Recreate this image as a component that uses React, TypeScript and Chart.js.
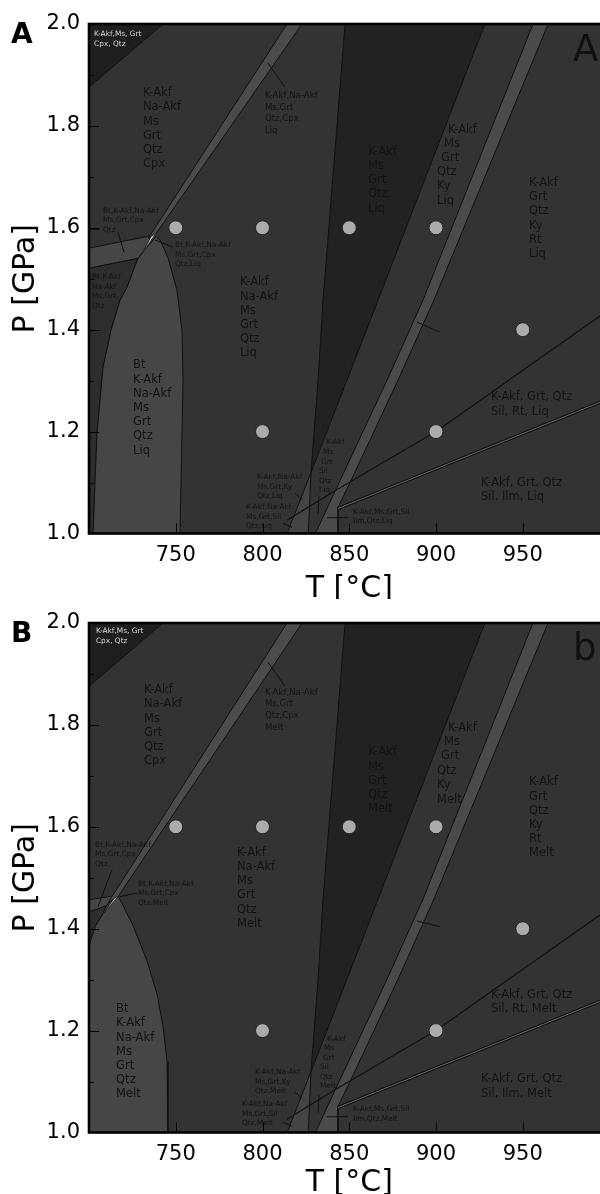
import React, { useEffect, useRef } from 'react';
import { Chart, registerables } from 'chart.js';
Chart.register(...registerables);

type Pt = [number, number];
type Label = { t: number; p: number; lines: string[] };

// ---- axes ----
const tMin = 700, tMax = 1000, pMin = 1.0, pMax = 2.0;
const xTickValues = [750, 800, 850, 900, 950];
const yTickValues = [1.0, 1.2, 1.4, 1.6, 1.8, 2.0];
const yMinorValues = [1.1, 1.3, 1.5, 1.7, 1.9];

// ---- sample points (T, P) ----
const sampleT = [750, 800, 850, 900, 950, 800, 900];
const sampleP = [1.6, 1.6, 1.6, 1.6, 1.4, 1.2, 1.2];

// ---- shared field outlines (T °C, P GPa) ----
const fullArea: Pt[] = [[700, 1], [1000, 1], [1000, 2], [700, 2]];
const darkCorner: Pt[] = [[700, 2], [742.7, 2], [700, 1.876]];
const darkWedge: Pt[] = [[847.6, 2], [928.2, 2], [866.6, 1.458], [848.7, 1.301], [828.0, 1.12], [832.0, 1.301], [834.9, 1.458]];
const kyNaTriangle: Pt[] = [[828.0, 1.12], [826.2, 0.99], [813.0, 0.99]];
const kyBand: Pt[] = [[955.9, 2], [964.6, 2], [898.8, 1.458], [878.1, 1.301], [851.0, 1.104], [843.5, 1.051], [843.5, 0.99], [829.1, 0.99], [844.7, 1.104], [871.8, 1.301], [892.5, 1.458]];
const rtLine: Pt[] = [[814.1, 1.026], [844.7, 1.09], [900, 1.2], [1000, 1.44]];
const ilmLine: Pt[] = [[843.5, 1.049], [1000, 1.265]];
const sharedLeaders: Pt[][] = [
  [[803.2, 1.923], [812.9, 1.876]],
  [[818.7, 1.079], [822.8, 1.067]],
  [[811.8, 1.02], [817.0, 1.012]],
  [[832.6, 1.073], [832.0, 1.039]],
  [[837.2, 1.031], [849.3, 1.031]],
];

// ---- panel A fields ----
const cpxBandA: Pt[] = [[814.1, 2], [822.8, 2], [738.3, 1.587], [734.3, 1.58]];
const sliverA: Pt[] = [[738.6, 1.589], [735.7, 1.583], [731.1, 1.552]];
const btCpxA: Pt[] = [[700, 1.56], [736.3, 1.585], [731.1, 1.552], [728.2, 1.54], [700, 1.521]];
const btQtzA: Pt[] = [[700, 1.521], [728.2, 1.54], [721.9, 1.483], [717.9, 1.458], [712.7, 1.399], [708.1, 1.326], [704.6, 1.196], [703.5, 1.104], [702.3, 0.99], [700, 0.99]];
const btFieldA: Pt[] = [[728.2, 1.54], [731.1, 1.552], [738.6, 1.583], [740.9, 1.576], [745.5, 1.542], [750.7, 1.477], [753.6, 1.399], [754.2, 1.3], [753.6, 1.196], [752.4, 0.99], [702.3, 0.99], [703.5, 1.104], [704.6, 1.196], [708.1, 1.326], [712.7, 1.399], [717.9, 1.458], [721.9, 1.483]];
const leadersA: Pt[][] = [
  [[700.5, 1.597], [706.3, 1.597]],
  [[716.7, 1.591], [720.2, 1.552]],
  [[738.0, 1.576], [748.4, 1.562]],
  [[889.0, 1.415], [902.3, 1.395]],
];

// ---- panel B fields ----
const cpxBandB: Pt[] = [[814.1, 2], [822.8, 2], [716.7, 1.463], [711.0, 1.451]];
const sliverB: Pt[] = [[717.3, 1.465], [714.4, 1.459], [708.1, 1.429]];
const btCpxB: Pt[] = [[700, 1.457], [715.6, 1.465], [709.8, 1.445], [700, 1.433]];
const btQtzB: Pt[] = [[700, 1.433], [709.8, 1.445], [708.1, 1.429], [703.5, 1.404], [701.7, 1.384], [700, 1.368]];
const btFieldB: Pt[] = [[708.1, 1.429], [716.7, 1.465], [725.4, 1.406], [733.4, 1.337], [739.2, 1.272], [742.7, 1.207], [745.0, 1.14], [745.5, 1.075], [745.5, 0.99], [700, 0.99], [700, 1.368], [701.7, 1.384], [703.5, 1.404]];
const leadersB: Pt[][] = [
  [[713.3, 1.516], [705.2, 1.443]],
  [[727.7, 1.47], [717.9, 1.463]],
  [[889.0, 1.415], [902.3, 1.404]],
];

// ---- labels A ----
const bigLabelsA: Label[] = [
  { t: 731.1, p: 1.864, lines: ['K-Akf', 'Na-Akf', 'Ms', 'Grt', 'Qtz', 'Cpx'] },
  { t: 860.8, p: 1.749, lines: ['K-Akf', 'Ms', 'Grt', 'Qtz', 'Liq'] },
  { t: 906.9, p: 1.792, lines: ['K-Akf'] },
  { t: 904.6, p: 1.764, lines: ['Ms'] },
  { t: 902.9, p: 1.737, lines: ['Grt'] },
  { t: 900.6, p: 1.709, lines: ['Qtz', 'Ky', 'Liq'] },
  { t: 953.6, p: 1.688, lines: ['K-Akf', 'Grt', 'Qtz', 'Ky', 'Rt', 'Liq'] },
  { t: 787.0, p: 1.493, lines: ['K-Akf', 'Na-Akf', 'Ms', 'Grt', 'Qtz', 'Liq'] },
  { t: 725.4, p: 1.33, lines: ['Bt', 'K-Akf', 'Na-Akf', 'Ms', 'Grt', 'Qtz', 'Liq'] },
  { t: 931.7, p: 1.267, lines: ['K-Akf, Grt, Qtz', 'Sil, Rt, Liq'] },
  { t: 925.9, p: 1.1, lines: ['K-Akf, Grt, Qtz', 'Sil, Ilm, Liq'] },
];
const midLabelsA: Label[] = [
  { t: 801.4, p: 1.859, lines: ['K-Akf,Na-Akf', 'Ms,Grt', 'Qtz,Cpx', 'Liq'] },
];
const smallLabelsA: Label[] = [
  { t: 708.1, p: 1.633, lines: ['Bt,K-Akf,Na-Akf', 'Ms,Grt,Cpx', 'Qtz'] },
  { t: 749.6, p: 1.566, lines: ['Bt,K-Akf,Na-Akf', 'Ms,Grt,Cpx', 'Qtz,Liq'] },
  { t: 701.7, p: 1.503, lines: ['Bt,K-Akf', 'Na-Akf', 'Ms,Grt', 'Qtz'] },
  { t: 796.8, p: 1.11, lines: ['K-Akf,Na-Akf', 'Ms,Grt,Ky', 'Qtz,Liq'] },
  { t: 790.5, p: 1.051, lines: ['K-Akf,Na-Akf', 'Ms,Grt,Sil', 'Qtz,Liq'] },
  { t: 836.6, p: 1.179, lines: ['K-Akf'] },
  { t: 834.9, p: 1.159, lines: ['Ms'] },
  { t: 833.7, p: 1.141, lines: ['Grt'] },
  { t: 832.6, p: 1.122, lines: ['Sil', 'Qtz', 'Liq'] },
  { t: 852.2, p: 1.043, lines: ['K-Akf,Ms,Grt,Sil', 'Ilm,Qtz,Liq'] },
];
const cornerLabelsA: Label[] = [{ t: 702.9, p: 1.98, lines: ['K-Akf,Ms, Grt', 'Cpx, Qtz'] }];

// ---- labels B ----
const bigLabelsB: Label[] = [
  { t: 731.7, p: 1.868, lines: ['K-Akf', 'Na-Akf', 'Ms', 'Grt', 'Qtz', 'Cpx'] },
  { t: 860.8, p: 1.746, lines: ['K-Akf', 'Ms', 'Grt', 'Qtz', 'Melt'] },
  { t: 906.9, p: 1.793, lines: ['K-Akf'] },
  { t: 904.6, p: 1.766, lines: ['Ms'] },
  { t: 902.9, p: 1.738, lines: ['Grt'] },
  { t: 900.6, p: 1.709, lines: ['Qtz', 'Ky', 'Melt'] },
  { t: 953.6, p: 1.687, lines: ['K-Akf', 'Grt', 'Qtz', 'Ky', 'Rt', 'Melt'] },
  { t: 785.3, p: 1.549, lines: ['K-Akf', 'Na-Akf', 'Ms', 'Grt', 'Qtz', 'Melt'] },
  { t: 715.6, p: 1.242, lines: ['Bt', 'K-Akf', 'Na-Akf', 'Ms', 'Grt', 'Qtz', 'Melt'] },
  { t: 931.7, p: 1.27, lines: ['K-Akf, Grt, Qtz', 'Sil, Rt, Melt'] },
  { t: 925.9, p: 1.104, lines: ['K-Akf, Grt, Qtz', 'Sil, Ilm, Melt'] },
];
const midLabelsB: Label[] = [
  { t: 801.4, p: 1.864, lines: ['K-Akf,Na-Akf', 'Ms,Grt', 'Qtz,Cpx', 'Melt'] },
];
const smallLabelsB: Label[] = [
  { t: 703.5, p: 1.565, lines: ['Bt,K-Akf,Na-Akf', 'Ms,Grt,Cpx', 'Qtz'] },
  { t: 728.2, p: 1.488, lines: ['Bt,K-Akf,Na-Akf', 'Ms,Grt,Cpx', 'Qtz,Melt'] },
  { t: 795.7, p: 1.118, lines: ['K-Akf,Na-Akf', 'Ms,Grt,Ky', 'Qtz,Melt'] },
  { t: 788.2, p: 1.055, lines: ['K-Akf,Na-Akf', 'Ms,Grt,Sil', 'Qtz,Melt'] },
  { t: 837.2, p: 1.183, lines: ['K-Akf'] },
  { t: 835.4, p: 1.165, lines: ['Ms'] },
  { t: 834.9, p: 1.146, lines: ['Grt'] },
  { t: 833.1, p: 1.128, lines: ['Sil', 'Qtz', 'Melt'] },
  { t: 852.2, p: 1.045, lines: ['K-Akf,Ms,Grt,Sil', 'Ilm,Qtz,Melt'] },
];
const cornerLabelsB: Label[] = [{ t: 704.0, p: 1.984, lines: ['K-Akf,Ms, Grt', 'Cpx, Qtz'] }];

const FONT = '"DejaVu Sans", "Liberation Sans", sans-serif';

type PanelDef = {
  letter: string; corner: string; height: number; titleOffset: number;
  cpxBand: Pt[]; sliver: Pt[]; btCpx: Pt[]; btQtz: Pt[]; btField: Pt[]; leaders: Pt[][];
  big: Label[]; mid: Label[]; small: Label[]; cornerLbl: Label[];
};

const panelA: PanelDef = {
  letter: 'A', corner: 'A', height: 599, titleOffset: 63.5,
  cpxBand: cpxBandA, sliver: sliverA, btCpx: btCpxA, btQtz: btQtzA, btField: btFieldA, leaders: leadersA,
  big: bigLabelsA, mid: midLabelsA, small: smallLabelsA, cornerLbl: cornerLabelsA,
};
const panelB: PanelDef = {
  letter: 'B', corner: 'b', height: 595, titleOffset: 58,
  cpxBand: cpxBandB, sliver: sliverB, btCpx: btCpxB, btQtz: btQtzB, btField: btFieldB, leaders: leadersB,
  big: bigLabelsB, mid: midLabelsB, small: smallLabelsB, cornerLbl: cornerLabelsB,
};

function poly(pts: Pt[], color: string, border = '#111', bw = 1) {
  const data = pts.map(([x, y]) => ({ x, y }));
  data.push({ x: pts[0][0], y: pts[0][1] });
  return {
    data, fill: 'shape', backgroundColor: color, borderColor: border, borderWidth: bw,
    pointRadius: 0, tension: 0, showLine: true,
  };
}
function path(pts: Pt[], color: string, bw: number) {
  return {
    data: pts.map(([x, y]) => ({ x, y })), fill: false, borderColor: color, borderWidth: bw,
    pointRadius: 0, tension: 0, showLine: true, backgroundColor: color,
  };
}

function makeOverlay(def: PanelDef) {
  return {
    id: 'overlay' + def.letter,
    afterDatasetsDraw(chart: any) {
      const { ctx, chartArea: a, scales } = chart;
      const x = scales.x, y = scales.y;
      ctx.save();
      ctx.beginPath();
      ctx.rect(a.left, a.top, a.right - a.left, a.bottom - a.top);
      ctx.clip();
      const draw = (list: Label[], size: number, gap: number, color: string) => {
        ctx.font = `${size}px ${FONT}`;
        ctx.fillStyle = color;
        ctx.textAlign = 'left';
        ctx.textBaseline = 'middle';
        for (const l of list) {
          const px = x.getPixelForValue(l.t);
          const py = y.getPixelForValue(l.p);
          l.lines.forEach((s, i) => ctx.fillText(s, px, py + i * gap));
        }
      };
      draw(def.big, 11.5, 14.2, '#131313');
      draw(def.mid, 8.6, 11.7, '#131313');
      draw(def.small, 7.4, 9.5, '#131313');
      draw(def.cornerLbl, 7.4, 10, '#d8d8d8');
      // corner letter inside plot
      ctx.font = `37px ${FONT}`;
      ctx.fillStyle = '#111';
      ctx.textBaseline = 'alphabetic';
      ctx.fillText(def.corner, 573, a.top + 37);
      // ticks
      ctx.strokeStyle = '#000';
      ctx.lineWidth = 1;
      ctx.beginPath();
      for (const t of xTickValues) {
        const px = Math.round(x.getPixelForValue(t)) + 0.5;
        ctx.moveTo(px, a.bottom); ctx.lineTo(px, a.bottom - 10);
      }
      for (const p of yTickValues) {
        const py = Math.round(y.getPixelForValue(p)) + 0.5;
        ctx.moveTo(a.left, py); ctx.lineTo(a.left + 10, py);
      }
      for (const p of yMinorValues) {
        const py = Math.round(y.getPixelForValue(p)) + 0.5;
        ctx.moveTo(a.left, py); ctx.lineTo(a.left + 5, py);
      }
      ctx.stroke();
      ctx.restore();
      // frame
      ctx.save();
      ctx.strokeStyle = '#000';
      ctx.lineWidth = 2.6;
      ctx.strokeRect(a.left, a.top, a.right - a.left, a.bottom - a.top);
      // titles
      ctx.fillStyle = '#000';
      ctx.font = `30px ${FONT}`;
      ctx.textAlign = 'center';
      ctx.textBaseline = 'alphabetic';
      ctx.fillText('T [°C]', (a.left + a.right) / 2, a.bottom + def.titleOffset);
      ctx.save();
      ctx.translate(34, (a.top + a.bottom) / 2);
      ctx.rotate(-Math.PI / 2);
      ctx.fillText('P [GPa]', 0, 0);
      ctx.restore();
      ctx.font = `bold 28px ${FONT}`;
      ctx.textAlign = 'left';
      ctx.fillText(def.letter, 11, 43);
      ctx.restore();
    },
  };
}

function buildConfig(def: PanelDef): any {
  const layers = [
    poly(fullArea, '#333333', 'rgba(0,0,0,0)', 0),
    poly(darkCorner, '#1e1e1e'),
    poly(darkWedge, '#222222'),
    poly(kyNaTriangle, '#444444'),
    poly(kyBand, '#4a4a4a'),
    poly(def.btQtz, '#2d2d2d'),
    poly(def.btCpx, '#464646'),
    poly(def.btField, '#464646'),
    poly(def.cpxBand, '#4b4b4b'),
    poly(def.sliver, '#c4c4c4', '#222', 0.8),
    path(rtLine, '#111', 1.2),
    path(ilmLine, '#111', 3.4),
    path(ilmLine, '#6a6a6a', 1),
    ...sharedLeaders.map((s) => path(s, '#111', 1)),
    ...def.leaders.map((s) => path(s, '#111', 1)),
    {
      data: sampleT.map((t, i) => ({ x: t, y: sampleP[i] })),
      showLine: false, pointRadius: 7, pointBackgroundColor: '#ababab',
      pointBorderColor: '#222', pointBorderWidth: 1, fill: false,
    },
  ];
  const datasets = layers.map((d, i) => ({ ...d, order: layers.length - i }));
  return {
    type: 'line',
    data: { datasets },
    options: {
      responsive: false,
      animation: false,
      events: [],
      layout: { padding: { top: 24, left: 0, right: 10.5, bottom: 0 } },
      plugins: { legend: { display: false }, tooltip: { enabled: false } },
      scales: {
        x: {
          type: 'linear', min: tMin, max: tMax,
          grid: { display: false, drawTicks: false },
          border: { display: false },
          ticks: {
            stepSize: 50, autoSkip: false, maxRotation: 0, padding: 9,
            color: '#000', font: { family: FONT, size: 21 },
            callback: (v: number) => (xTickValues.includes(v) ? String(v) : ''),
          },
          afterFit: (s: any) => { s.height = def.height - 533.5; },
        },
        y: {
          type: 'linear', min: pMin, max: pMax,
          grid: { display: false, drawTicks: false },
          border: { display: false },
          ticks: {
            stepSize: 0.2, autoSkip: false, padding: 9,
            color: '#000', font: { family: FONT, size: 21 },
            callback: (v: number) => Number(v).toFixed(1),
          },
          afterFit: (s: any) => { s.width = 89; },
        },
      },
    },
    plugins: [makeOverlay(def)],
  };
}

function Panel({ def }: { def: PanelDef }) {
  const ref = useRef<HTMLCanvasElement>(null);
  useEffect(() => {
    const chart = new Chart(ref.current as HTMLCanvasElement, buildConfig(def));
    return () => chart.destroy();
  }, [def]);
  return (
    <canvas ref={ref} width={620} height={def.height}
      style={{ display: 'block', width: 620, height: def.height }} />
  );
}

export default function App() {
  return (
    <div style={{ position: 'absolute', left: 0, top: 0, width: 600, height: 1194, overflow: 'hidden', background: '#fff' }}>
      <Panel def={panelA} />
      <Panel def={panelB} />
    </div>
  );
}
